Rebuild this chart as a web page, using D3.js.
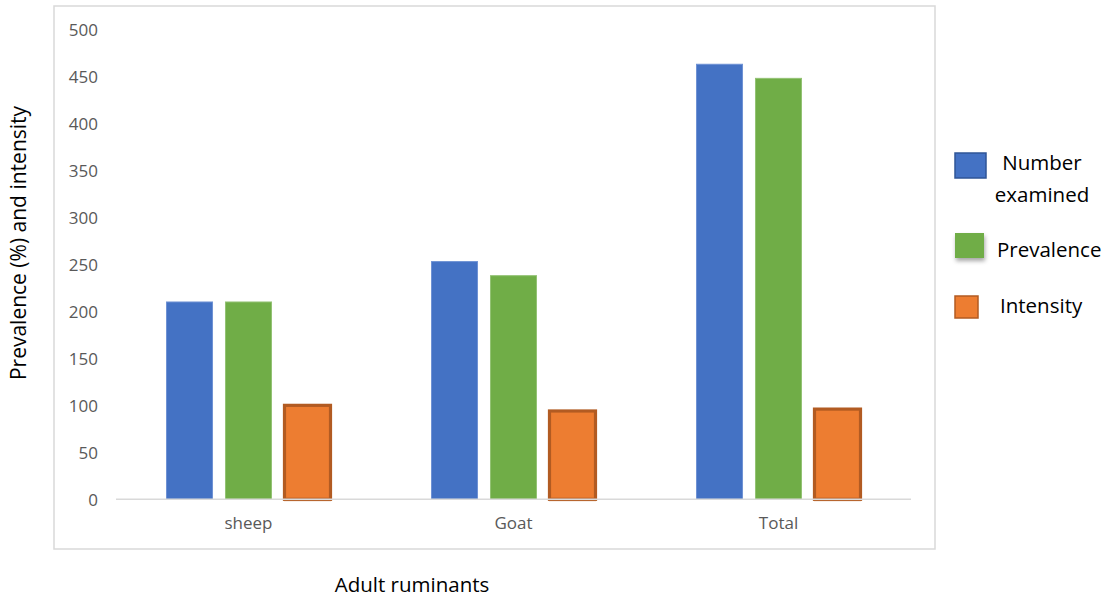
<!DOCTYPE html>
<html>
<head>
<meta charset="utf-8">
<script src="https://cdn.jsdelivr.net/npm/d3@7"></script>
<style>
  html, body { margin: 0; padding: 0; background: #fff; }
  svg { display: block; font-family: "Open Sans", "Noto Sans", sans-serif; }
</style>
</head>
<body>
<svg id="chart" width="1109" height="599"></svg>
<script>
// Adult ruminants: counts examined, prevalence and intensity
const categories = ["sheep", "Goat", "Total"];
const seriesNames = ["Number examined", "Prevalence", "Intensity"];
const numberExamined = [210, 253, 463];
const prevalence = [210, 238, 448];
const intensity = [100, 94, 96];
const yTicks = [0, 50, 100, 150, 200, 250, 300, 350, 400, 450, 500];

const seriesValues = [numberExamined, prevalence, intensity];
const fills = ["#4472c4", "#70ad47", "#ed7d31"];
const edges = ["#6f92d4", "#93c274", "#b25b22"];
const edgeWidths = [1, 1, 3.2];
const FONT = '"Open Sans", "Noto Sans", sans-serif';

const svg = d3.select("#chart");

// outer chart frame
svg.append("rect")
  .attr("x", 54).attr("y", 6)
  .attr("width", 881).attr("height", 543)
  .attr("fill", "none")
  .attr("stroke", "#d9d9d9")
  .attr("stroke-width", 1.5);

const plot = { left: 116, right: 911, top: 29.5, bottom: 499.3 };

const x0 = d3.scaleBand()
  .domain(categories)
  .range([plot.left, plot.right])
  .padding(0);

const x1 = d3.scaleBand()
  .domain(seriesNames)
  .range([x0.bandwidth() / 2 - 82, x0.bandwidth() / 2 + 82])
  .paddingInner(0.22)
  .paddingOuter(0);

const y = d3.scaleLinear()
  .domain([0, 500])
  .range([plot.bottom, plot.top]);

// y axis labels (no line, no ticks)
const yAxis = d3.axisLeft(y)
  .tickValues(yTicks)
  .tickSize(0)
  .tickPadding(0);
const yg = svg.append("g")
  .attr("transform", `translate(98,0)`)
  .call(yAxis)
  .attr("font-family", FONT)
  .attr("font-size", 17);
yg.select(".domain").remove();
yg.selectAll("text")
  .attr("fill", "#595959")
  .attr("dy", "0.34em");

// bars
const rows = categories.map((c, i) => ({
  cat: c,
  vals: seriesNames.map((s, j) => ({ s, j, v: seriesValues[j][i] }))
}));

const groups = svg.append("g").selectAll("g")
  .data(rows)
  .join("g")
  .attr("transform", d => `translate(${x0(d.cat)},0)`);

// soft shadow under the intensity bars
groups.selectAll("rect.shadow")
  .data(d => d.vals.filter(v => v.j === 2))
  .join("rect")
  .attr("class", "shadow")
  .attr("x", d => x1(d.s) - 0.5)
  .attr("y", d => y(d.v) + 2)
  .attr("width", x1.bandwidth() + 1)
  .attr("height", d => y(0) - y(d.v))
  .attr("fill", "#e6c6b0");

groups.selectAll("rect.bar")
  .data(d => d.vals)
  .join("rect")
  .attr("class", "bar")
  .attr("x", d => x1(d.s))
  .attr("y", d => y(d.v))
  .attr("width", x1.bandwidth())
  .attr("height", d => y(0) - y(d.v))
  .attr("fill", d => fills[d.j])
  .attr("stroke", d => edges[d.j])
  .attr("stroke-width", d => edgeWidths[d.j]);

// x baseline
svg.append("line")
  .attr("x1", plot.left).attr("x2", plot.right)
  .attr("y1", y(0)).attr("y2", y(0))
  .attr("stroke", "#d9d9d9")
  .attr("stroke-width", 1.5);

// x category labels
const xAxis = d3.axisBottom(x0).tickSize(0).tickPadding(0);
const xg = svg.append("g")
  .attr("transform", `translate(0,${y(0) + 18})`)
  .call(xAxis)
  .attr("font-family", FONT)
  .attr("font-size", 17);
xg.select(".domain").remove();
xg.selectAll("text")
  .attr("fill", "#595959")
  .attr("dy", "0.71em");

// axis titles
svg.append("text")
  .attr("transform", "translate(26,243) rotate(-90)")
  .attr("text-anchor", "middle")
  .attr("fill", "#000")
  .style("font-size", "21px")
  .text("Prevalence (%) and intensity");

svg.append("text")
  .attr("x", 412).attr("y", 592)
  .attr("text-anchor", "middle")
  .attr("fill", "#000")
  .style("font-size", "20.5px")
  .text("Adult ruminants");

// legend
const defs = svg.append("defs");
const f = defs.append("filter").attr("id", "legendShadow")
  .attr("x", "-30%").attr("y", "-30%").attr("width", "170%").attr("height", "170%");
f.append("feDropShadow").attr("dx", 1).attr("dy", 3).attr("stdDeviation", 2)
  .attr("flood-color", "#000").attr("flood-opacity", 0.35);

const legendItems = [
  { box: [955, 153, 31, 25], lines: ["Number", "examined"], tx: 1042, ty: [170, 202], anchor: "middle", j: 0 },
  { box: [955, 233, 29, 25], lines: ["Prevalence"], tx: 997, ty: [257], anchor: "start", j: 1 },
  { box: [955, 296, 23, 22], lines: ["Intensity"], tx: 1000, ty: [313], anchor: "start", j: 2 }
];

const lg = svg.append("g");
legendItems.forEach(it => {
  lg.append("rect")
    .attr("x", it.box[0]).attr("y", it.box[1])
    .attr("width", it.box[2]).attr("height", it.box[3])
    .attr("fill", fills[it.j])
    .attr("stroke", it.j === 0 ? "#2f5597" : it.j === 2 ? "#b25b22" : "none")
    .attr("stroke-width", it.j === 1 ? 0 : 1.5)
    .attr("filter", it.j === 1 ? "url(#legendShadow)" : null);
  it.lines.forEach((t, k) => {
    lg.append("text")
      .attr("x", it.tx).attr("y", it.ty[k])
      .attr("text-anchor", it.anchor)
      .attr("fill", "#000")
      .style("font-size", "20.5px")
      .text(t);
  });
});
</script>
</body>
</html>
